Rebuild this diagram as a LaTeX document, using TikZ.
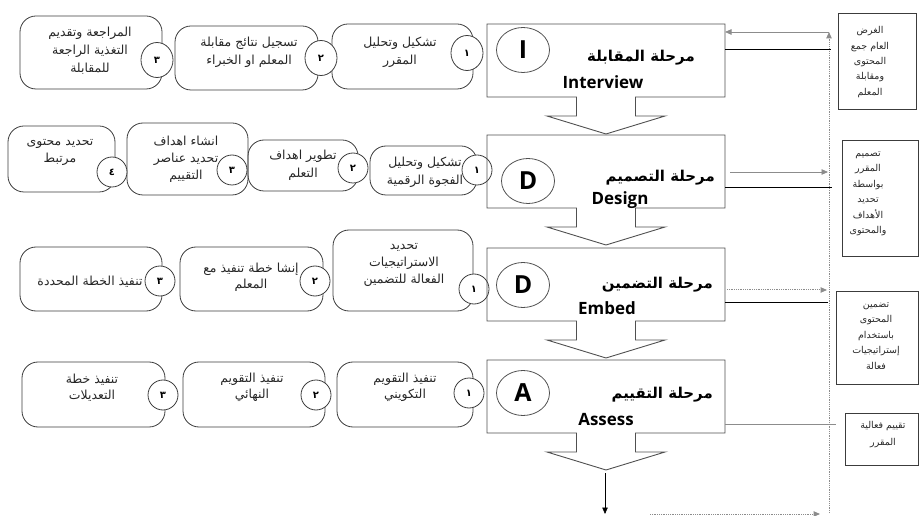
\documentclass[tikz,border=0pt]{standalone}
\usepackage{fontspec}
\setmainfont{DejaVu Sans}
\newfontfamily\arabicfont[Script=Arabic]{DejaVu Sans}
\newfontfamily\headfont{Open Sans}
\TeXXeTstate=1
\usetikzlibrary{arrows.meta,calc,shapes.geometric}
\newcommand\artext[1]{\beginR#1\endR}
\definecolor{boxgray}{HTML}{3C3C3C}
\definecolor{phasegray}{HTML}{505050}
\definecolor{wiregray}{HTML}{8C8C8C}
\definecolor{txtgray}{HTML}{262626}

\begin{document}
\begin{tikzpicture}[x=1bp,y=-1bp,
  stepbox/.style={draw=boxgray, line width=0.8bp, rounded corners=16bp, inner sep=0pt},
  numdisc/.style={ellipse, draw=boxgray, line width=0.8bp, fill=white, inner sep=0pt,
    minimum width=30bp, minimum height=30bp,
    font=\arabicfont\bfseries\fontsize{10}{10}\selectfont},
  bigdisc/.style={numdisc, minimum width=32bp, minimum height=35bp},
  steptext/.style={align=center, inner sep=0pt, text=txtgray,
    font=\arabicfont\fontsize{12.5}{18}\selectfont},
  phase/.style={draw=none, inner sep=0pt, outer sep=0pt,
    minimum width=238bp, minimum height=73bp},
  phaseline/.style={draw=phasegray, line width=0.9bp, line join=miter},
  letter/.style={ellipse, draw=phasegray, line width=0.8bp, inner sep=0pt,
    minimum width=53bp, minimum height=45bp,
    font=\headfont\bfseries\fontsize{25}{25}\selectfont},
  phasetitle/.style={anchor=east, inner sep=0pt,
    font=\arabicfont\bfseries\fontsize{15}{15}\selectfont},
  phaseeng/.style={inner sep=0pt, font=\headfont\bfseries\fontsize{17}{17}\selectfont},
  notebox/.style={draw=boxgray, line width=0.8bp, inner sep=0pt},
  notetext/.style={align=center, inner sep=0pt, text=txtgray,
    font=\arabicfont\fontsize{9.5}{15.5}\selectfont},
  tip/.style={-{Triangle[length=6.5bp,width=5.5bp]}},
  blackwire/.style={draw=black, line width=0.8bp},
  graywire/.style={draw=wiregray, line width=0.8bp},
  dotwire/.style={draw=wiregray, line width=1bp, dash pattern=on 1bp off 0.8bp}
]
\useasboundingbox (0,0) rectangle (919,516);

% ---- step boxes, row 1 (interview)
\node[stepbox, minimum width=142bp, minimum height=73bp] (s13) at (91,52.5) {};
\node[stepbox, minimum width=143bp, minimum height=64bp] (s12) at (246.5,58) {};
\node[stepbox, minimum width=141bp, minimum height=65bp] (s11) at (402.5,56.5) {};
\node[steptext] (t13) at (90,51) {\artext{المراجعة وتقديم}\\\artext{التغذية الراجعة}\\\artext{للمقابلة}};
\node[steptext] (t12) at (249,52.5) {\artext{تسجيل نتائج مقابلة}\\\artext{المعلم او الخبراء}};
\node[steptext] (t11) at (400,52.5) {\artext{تشكيل وتحليل}\\\artext{المقرر}};

% ---- step boxes, row 2 (design)
\node[stepbox, minimum width=107bp, minimum height=66bp] (s24) at (61.5,159) {};
\node[stepbox, minimum width=121bp, minimum height=72bp] (s23) at (187.5,159) {};
\node[stepbox, minimum width=110bp, minimum height=51bp] (s22) at (303,165.5) {};
\node[stepbox, minimum width=107bp, minimum height=49bp] (s21) at (423.5,170.5) {};
\node[steptext] (t24) at (60,152.5) {\artext{تحديد محتوى}\\\artext{مرتبط}};
\node[steptext, font=\arabicfont\fontsize{12.5}{17}\selectfont] (t23) at (186,159) {\artext{انشاء اهداف}\\\artext{تحديد عناصر}\\\artext{التقييم}};
\node[steptext] (t22) at (303,165) {\artext{تطوير اهداف}\\\artext{التعلم}};
\node[steptext] (t21) at (425,172) {\artext{تشكيل وتحليل}\\\artext{الفجوة الرقمية}};

% ---- step boxes, row 3 (embed)
\node[stepbox, minimum width=142bp, minimum height=64bp] (s33) at (91,279) {};
\node[stepbox, minimum width=143bp, minimum height=64bp] (s32) at (251.5,279) {};
\node[stepbox, minimum width=140bp, minimum height=81bp] (s31) at (403,270.5) {};
\node[steptext] (t33) at (90,282) {\artext{تنفيذ الخطة المحددة}};
\node[steptext, font=\arabicfont\fontsize{12.5}{16}\selectfont] (t32) at (251,277.5) {\artext{إنشا خطة تنفيذ مع}\\\artext{المعلم}};
\node[steptext, font=\arabicfont\fontsize{12.5}{17}\selectfont] (t31) at (404,265) {\artext{تحديد}\\\artext{الاستراتيجيات}\\\artext{الفعالة للتضمين}};

% ---- step boxes, row 4 (assess)
\node[stepbox, minimum width=143bp, minimum height=65bp] (s43) at (93.5,394.5) {};
\node[stepbox, minimum width=142bp, minimum height=65bp] (s42) at (254,394.5) {};
\node[stepbox, minimum width=136bp, minimum height=65bp] (s41) at (405,394.5) {};
\node[steptext, font=\arabicfont\fontsize{12.5}{16}\selectfont] (t43) at (92,387.5) {\artext{تنفيذ خطة}\\\artext{التعديلات}};
\node[steptext, font=\arabicfont\fontsize{12.5}{16}\selectfont] (t42) at (252,387) {\artext{تنفيذ التقويم}\\\artext{النهائي}};
\node[steptext, font=\arabicfont\fontsize{12.5}{16}\selectfont] (t41) at (405,387) {\artext{تنفيذ التقويم}\\\artext{التكويني}};

% ---- numbered discs
\node[bigdisc] (c13) at (157,60) {٣};
\node[bigdisc] (c12) at (321,58) {٢};
\node[bigdisc] (c11) at (467,53) {١};
\node[numdisc] (c24) at (112,172) {٤};
\node[numdisc] (c23) at (232,170) {٣};
\node[numdisc] (c22) at (353,168) {٢};
\node[numdisc] (c21) at (477,170) {١};
\node[numdisc] (c33) at (160,281) {٣};
\node[numdisc] (c32) at (315,281) {٢};
\node[numdisc] (c31) at (474,289) {١};
\node[numdisc] (c43) at (163,395) {٣};
\node[numdisc] (c42) at (316,395) {٢};
\node[numdisc] (c41) at (469,393) {١};

% ---- phase blocks with their down-pointing arrows
\node[phase] (p1) at (606,60.5) {};
\node[phase] (p2) at (606,171.5) {};
\node[phase] (p3) at (606,284.5) {};
\node[phase] (p4) at (606,396.5) {};
\foreach \p in {p1,p2,p3,p4}{
  \draw[phaseline] (\p.south west) -- (\p.north west) -- (\p.north east) -- (\p.south east)
    -- ($(\p.south)+(29.5,0)$) -- ++(0,19) -- ++(29.5,0) -- ++(-59,18) -- ++(-59,-18)
    -- ++(29.5,0) -- ++(0,-19) -- cycle;
}
\coordinate (p4tip) at ($(p4.south)+(0,37)$);

\node[letter] (l1) at (523,50) {I};
\node[letter] (l2) at (528,181) {D};
\node[letter] (l3) at (523,285) {D};
\node[letter] (l4) at (523,393) {A};
\node[phasetitle] (h1) at (695,58) {\artext{مرحلة المقابلة}};
\node[phasetitle] (h2) at (715,178) {\artext{مرحلة التصميم}};
\node[phasetitle] (h3) at (713,285) {\artext{مرحلة التضمين}};
\node[phasetitle] (h4) at (713,395) {\artext{مرحلة التقييم}};
\node[phaseeng] (e1) at (603,82) {Interview};
\node[phaseeng] (e2) at (620,200) {Design};
\node[phaseeng] (e3) at (607,308) {Embed};
\node[phaseeng] (e4) at (606,420) {Assess};

% ---- notes on the right
\node[notebox, minimum width=78bp, minimum height=96bp] (n1) at (877,61) {};
\node[notebox, minimum width=76bp, minimum height=116bp] (n2) at (880,198) {};
\node[notebox, minimum width=82bp, minimum height=93bp] (n3) at (877,337.5) {};
\node[notebox, minimum width=73bp, minimum height=52bp] (n4) at (881.5,439) {};
\node[notetext] (m1) at (870,62) {\artext{الغرض}\\\artext{العام جمع}\\\artext{المحتوى}\\\artext{ومقابلة}\\\artext{المعلم}};
\node[notetext] (m2) at (868,194) {\artext{تصميم}\\\artext{المقرر}\\\artext{بواسطة}\\\artext{تحديد}\\\artext{الأهداف}\\\artext{والمحتوى}};
\node[notetext] (m3) at (876,336) {\artext{تضمين}\\\artext{المحتوى}\\\artext{باستخدام}\\\artext{إستراتيجيات}\\\artext{فعالة}};
\node[notetext, font=\arabicfont\fontsize{9.5}{17}\selectfont] (m4) at (883,434.5) {\artext{تقييم فعالية}\\\artext{المقرر}};

% ---- wire end points
\coordinate (railtop) at (829,32);
\coordinate (railfoot) at (829,513);
\coordinate (loopstart) at (650,514);
\coordinate (loopend) at (820,514);
\coordinate (k1) at (831,49);
\coordinate (g2) at (828,172);
\coordinate (k2) at (832,187);
\coordinate (g3) at (827,290);
\coordinate (k3) at (828,302);
\coordinate (g4) at (836,424);
\coordinate (exit) at (605,514);

% ---- feedback loop
\draw[dotwire, tip] (loopstart) -- (loopend);
\draw[dotwire, tip] (railfoot) -- (railtop);
\draw[graywire, tip] (railtop) -- (p1.east |- railtop);

% ---- links from the phases
\draw[blackwire] (p1.east |- k1) -- (k1);
\draw[graywire, tip] ($(p2.east |- g2)+(5,0)$) -- (g2);
\draw[blackwire] (p2.east |- k2) -- (k2);
\draw[dotwire, tip] ($(p3.east |- g3)+(2,0)$) -- (g3);
\draw[blackwire] (p3.east |- k3) -- (k3);
\draw[graywire] (p4.east |- g4) -- (g4);
\draw[draw=black, line width=0.6bp, tip] ($(p4tip)+(-1,3)$) -- (exit);
\end{tikzpicture}
\end{document}
